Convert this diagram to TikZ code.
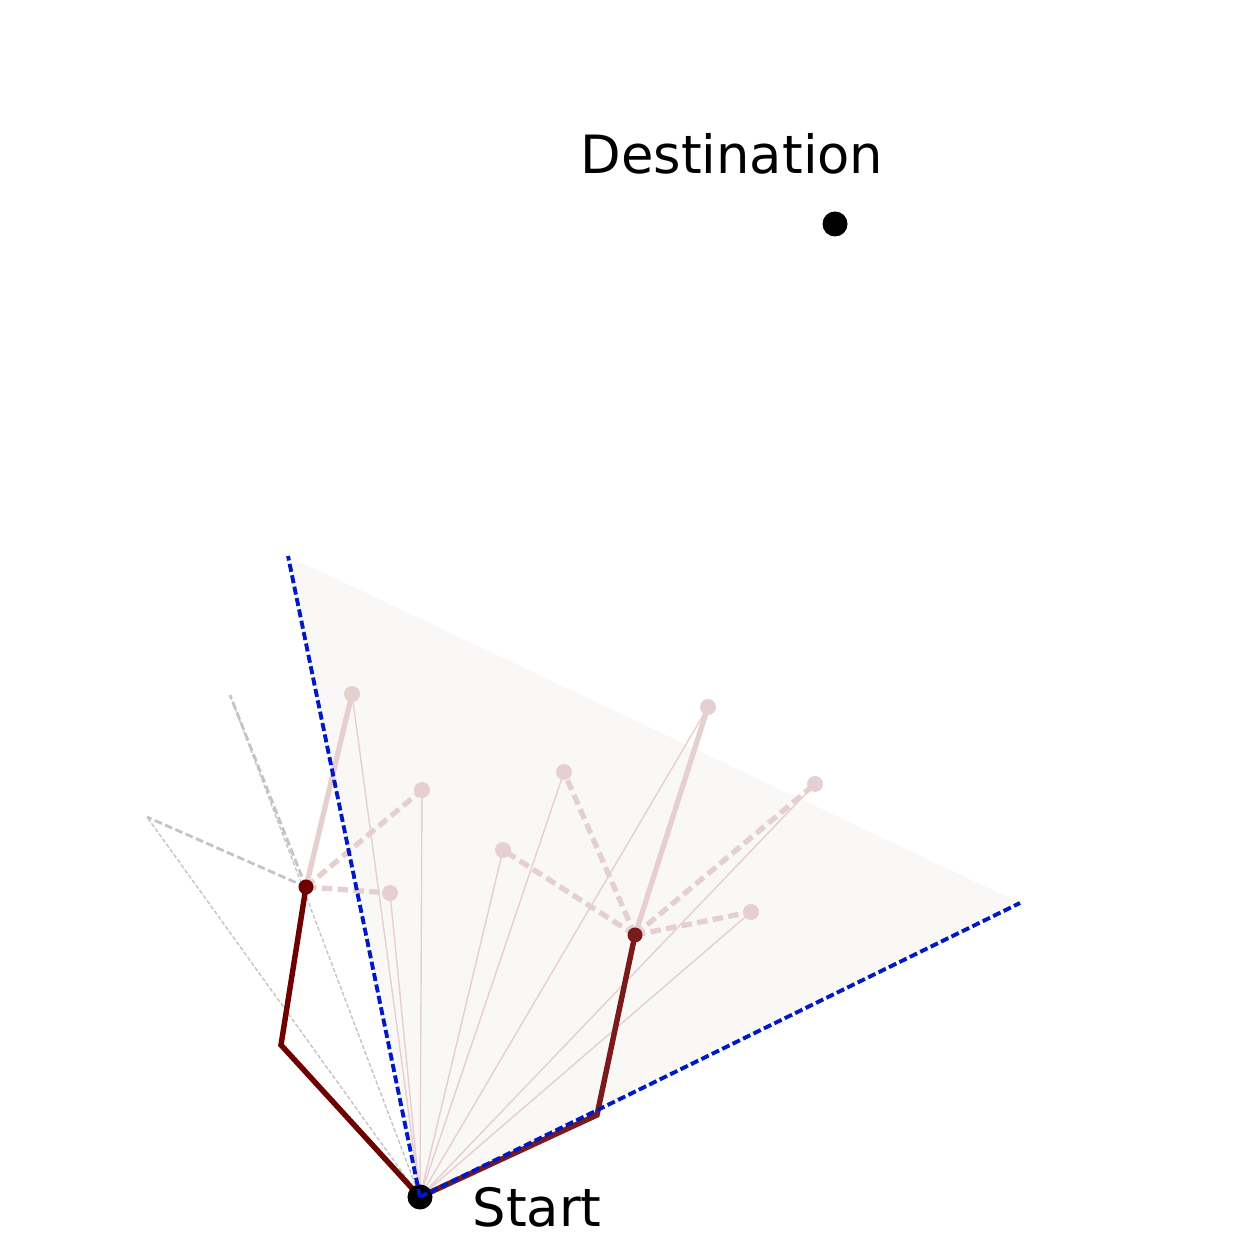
\documentclass[tikz,border=0pt]{standalone}
\usepackage{fontspec}
\setmainfont{DejaVu Sans}
\usepackage{xcolor}
\usetikzlibrary{backgrounds}

\definecolor{pathred}{HTML}{6E0000}
\definecolor{pathredb}{HTML}{7B1A1A}
\definecolor{pinkline}{HTML}{E6CFD0}
\definecolor{greyline}{HTML}{C4C4C4}
\definecolor{coneblue}{HTML}{0019C4}
\definecolor{conefill}{HTML}{FAF8F7}

\begin{document}
\begin{tikzpicture}[x=0.01cm,y=0.01cm,
  bigdot/.style={circle,fill=black,inner sep=0pt,minimum size=0.25cm},
  parentdot/.style={circle,fill=#1,inner sep=0pt,minimum size=0.15cm},
  childdot/.style={circle,fill=pinkline,inner sep=0pt,minimum size=0.16cm},
  ray/.style={pinkline,line width=0.4pt},
  greyray/.style={greyline,line width=0.4pt,dash pattern=on 1.2pt off 0.6pt},
  greybranch/.style={greyline,line width=0.8pt,dash pattern=on 2.2pt off 1pt},
  branch/.style={pinkline,line width=1.5pt},
  dashbranch/.style={pinkline,line width=1.5pt,dash pattern=on 3pt off 1.5pt},
  route/.style={line width=1.55pt,line join=miter},
  cone/.style={coneblue,line width=1.1pt,dash pattern=on 2.3pt off 1pt},
  lab/.style={font=\fontsize{15}{18}\selectfont,inner sep=0pt}]

\useasboundingbox (0,0) rectangle (1248,1248);

% reachable cone
\coordinate(ctop) at (288,692);
\coordinate(cright) at (1020,345);

% start, destination
\node(start) at (420,51)[bigdot]{};
\node(dest) at (835,1024)[bigdot]{};
\node(startlab) at (537,41)[lab]{Start};
\node(destlab) at (732,1094)[lab]{Destination};

% route corners
\coordinate(lc) at (281,203);
\coordinate(rc) at (597,133);
\node(lp) at (306,361)[parentdot=pathred]{};
\node(rp) at (635,313)[parentdot=pathredb]{};

% candidates
\node(l1) at (352,554)[childdot]{};
\node(l2) at (422,458)[childdot]{};
\node(l3) at (390,355)[childdot]{};
\coordinate(g1) at (147,431);
\coordinate(g2) at (230,553);
\node(r1) at (503,398)[childdot]{};
\node(r2) at (564,476)[childdot]{};
\node(r3) at (708,541)[childdot]{};
\node(r4) at (815,464)[childdot]{};
\node(r5) at (751,336)[childdot]{};

\begin{scope}[on background layer]
\fill[conefill] (start.center) -- (ctop) -- (cright) -- cycle;

\foreach \c in {l1,l2,l3,r1,r2,r3,r4,r5}
  \draw[ray] (start.center) -- (\c.center);
\draw[greyray] (start.center) -- (g1);
\draw[greyray] (start.center) -- (g2);

\draw[greybranch] (lp.center) -- (g1);
\draw[greybranch] (lp.center) -- (g2);
\draw[branch] (lp.center) -- (l1.center);
\draw[dashbranch] (lp.center) -- (l2.center);
\draw[dashbranch] (lp.center) -- (l3.center);
\draw[branch] (rp.center) -- (r3.center);
\foreach \c in {r1,r2,r4,r5}
  \draw[dashbranch] (rp.center) -- (\c.center);

\draw[route,pathred] (start.center) -- (lc) -- (lp.center);
\draw[route,pathredb] (start.center) -- (rc) -- (rp.center);
\end{scope}

\draw[cone] (start.center) -- (ctop);
\draw[cone] (start.center) -- (cright);

\end{tikzpicture}
\end{document}
